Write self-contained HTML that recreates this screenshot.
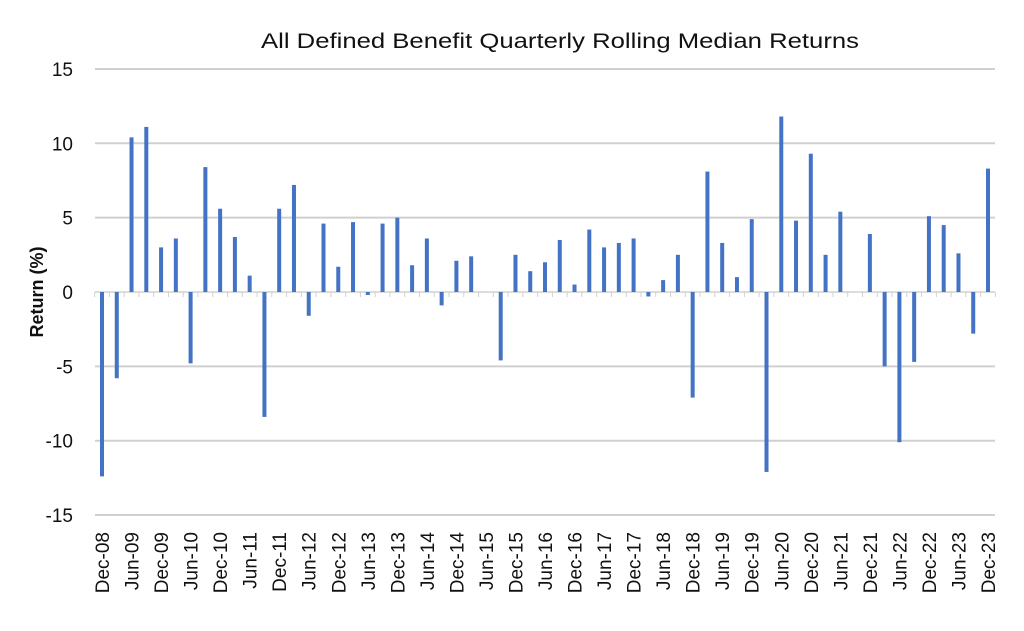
<!DOCTYPE html>
<html><head><meta charset="utf-8"><style>
html,body{margin:0;padding:0;background:#fff;width:1024px;height:631px;overflow:hidden}
svg text{font-family:"Liberation Sans",sans-serif;fill:#111}
</style></head><body>
<svg id="s" width="1024" height="631" xmlns="http://www.w3.org/2000/svg">
<text x="560" y="48" font-size="21" text-anchor="middle" textLength="598" lengthAdjust="spacingAndGlyphs">All Defined Benefit Quarterly Rolling Median Returns</text>
<text transform="translate(43,292) rotate(-90)" font-size="18" text-anchor="middle" style="font-weight:600">Return (%)</text>
</svg>
<script>
var s=document.getElementById('s'),NS='http://www.w3.org/2000/svg';
function el(t,a,txt){var e=document.createElementNS(NS,t);for(var k in a)e.setAttribute(k,a[k]);if(txt)e.textContent=txt;s.appendChild(e);return e;}
var y0=292,k=14.87;
for(var v=-15;v<=15;v+=5){var y=y0-v*k;
 if(v!==0)el('line',{x1:95,x2:995,y1:y,y2:y,stroke:'#d0d0d0','stroke-width':2});
 el('text',{x:73,y:y+7,'font-size':19,'text-anchor':'end'},String(v));}
var d=[-12.4,-5.8,10.4,11.1,3.0,3.6,-4.8,8.4,5.6,3.7,1.1,-8.4,5.6,7.2,-1.6,4.6,1.7,4.7,-0.2,4.6,5.0,1.8,3.6,-0.9,2.1,2.4,0,-4.6,2.5,1.4,2.0,3.5,0.5,4.2,3.0,3.3,3.6,-0.3,0.8,2.5,-7.1,8.1,3.3,1.0,4.9,-12.1,11.8,4.8,9.3,2.5,5.4,0,3.9,-5.0,-10.1,-4.7,5.1,4.5,2.6,-2.8,8.3];
var sp=(988-102)/60;
el('line',{x1:95,x2:995,y1:y0,y2:y0,stroke:'#d0d0d0','stroke-width':1.5});
for(var i=0;i<=61;i++){var x=102-sp/2+i*sp;el('line',{x1:x,x2:x,y1:y0,y2:y0+5,stroke:'#d0d0d0','stroke-width':1});}
d.forEach(function(v,i){var x=102+i*sp,h=v*k;
 el('rect',{x:x-2,y:v>=0?y0-h:y0,width:4,height:Math.abs(h),fill:'#4472c4'});
 if(i%2==0){var q=i%4==0?'Dec-':'Jun-';var yy=i%4==0?8+i/4:9+(i-2)/4;
  var lab=q+(yy<10?'0':'')+yy;
  el('text',{transform:'translate('+(x+7)+',532) rotate(-90)','font-size':19,'text-anchor':'end'},lab);}
});
</script>
</body></html>
